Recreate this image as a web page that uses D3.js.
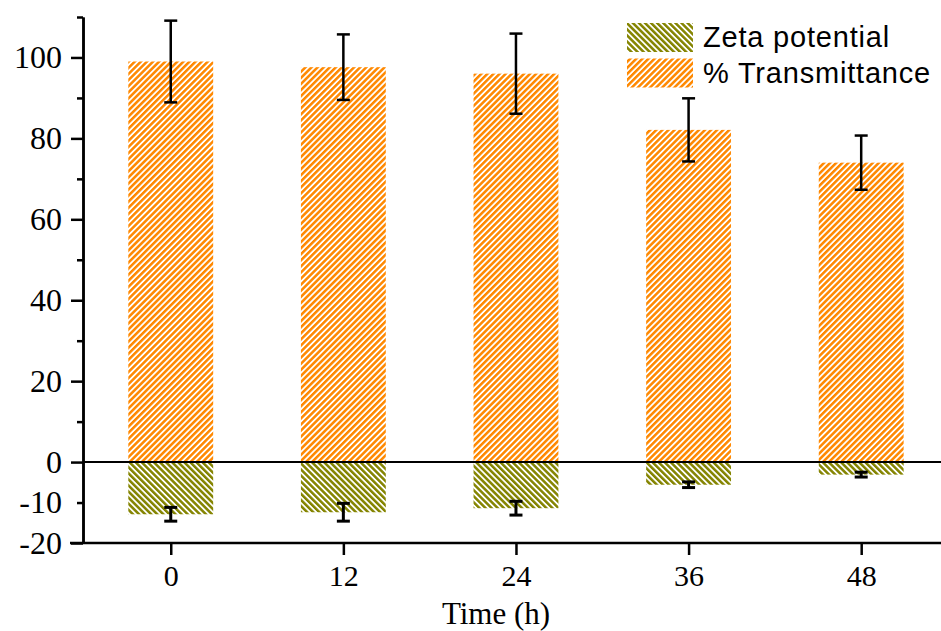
<!DOCTYPE html>
<html lang="en">
<head>
<meta charset="utf-8">
<title>Zeta potential and transmittance</title>
<script src="https://d3js.org/d3.v7.min.js"></script>
<style type="text/css">
body { margin: 0; background: #fff; }
svg  { display: block; }
.axis path, .axis line { stroke: #000; stroke-width: 2.5px; }
.axis text { font-family: "Liberation Serif", "Times New Roman", serif; font-size: 32px; fill: #000; }
.legend text { font-family: "Liberation Sans", Arial, sans-serif; font-size: 29px; fill: #000; }
</style>
</head>
<body>
<script type="text/javascript">

// data
var times = [0, 12, 24, 36, 48];
var transmittance = [99.0, 97.6, 96.0, 82.1, 74.0];
var transErr = [10.1, 8.1, 9.9, 7.8, 6.7];
var zeta = [-12.9, -12.4, -11.4, -5.6, -3.1];
var zetaErr = [1.7, 2.2, 1.7, 0.7, 0.6];
var yMajor = [100, 80, 60, 40, 20, 0, -20];
var yMinor = [110, 90, 70, 50, 30, 10, -10];
var yLabels = [100, 80, 60, 40, 20, 0, -10, -20];
var seriesNames = ["Zeta potential", "% Transmittance"];

var W = 941, H = 631;

var svg = d3.select("body")
            .append("svg")
            .attr("width", W)
            .attr("height", H);

var x = d3.scaleLinear().domain([-6.1, 54]).range([83, 947.5]);
var y = d3.scaleLinear().domain([-20, 110]).range([543, 17]);
var halfW = 2.95;

// hatch patterns
var defs = svg.append("defs");
function hatch(id, color, angle) {
    var p = defs.append("pattern")
        .attr("id", id)
        .attr("patternUnits", "userSpaceOnUse")
        .attr("width", 4.3)
        .attr("height", 4.3)
        .attr("patternTransform", "rotate(" + angle + ")");
    p.append("rect").attr("width", 4.3).attr("height", 4.3).attr("fill", "#fff");
    p.append("rect").attr("width", 2.5).attr("height", 4.3).attr("fill", color);
}
hatch("hatchOrange", "#ff8800", 45);
hatch("hatchOlive", "#848400", -45);

// bars
svg.selectAll(".tbar")
    .data(times)
    .enter()
    .append("rect")
    .attr("class", "tbar")
    .attr("x", function(d) { return x(d - halfW); })
    .attr("width", function(d) { return x(d + halfW) - x(d - halfW); })
    .attr("y", function(d, i) { return y(transmittance[i]); })
    .attr("height", function(d, i) { return y(0) - y(transmittance[i]); })
    .attr("fill", "url(#hatchOrange)");

svg.selectAll(".zbar")
    .data(times)
    .enter()
    .append("rect")
    .attr("class", "zbar")
    .attr("x", function(d) { return x(d - halfW); })
    .attr("width", function(d) { return x(d + halfW) - x(d - halfW); })
    .attr("y", y(0))
    .attr("height", function(d, i) { return y(zeta[i]) - y(0); })
    .attr("fill", "url(#hatchOlive)");

// error bars
function errorBars(vals, errs, sw) {
    var g = svg.append("g").attr("stroke", "#000").attr("stroke-width", sw);
    times.forEach(function(t, i) {
        var cx = x(t), hi = y(vals[i] + errs[i]), lo = y(vals[i] - errs[i]);
        g.append("line").attr("x1", cx).attr("x2", cx).attr("y1", hi).attr("y2", lo);
        g.append("line").attr("x1", cx - 6.5).attr("x2", cx + 6.5).attr("y1", hi).attr("y2", hi);
        g.append("line").attr("x1", cx - 6.5).attr("x2", cx + 6.5).attr("y1", lo).attr("y2", lo);
    });
}
errorBars(transmittance, transErr, 2.5);
errorBars(zeta, zetaErr, 3);

// zero line
svg.append("line")
    .attr("x1", x(-6.1)).attr("x2", W)
    .attr("y1", y(0)).attr("y2", y(0))
    .attr("stroke", "#000").attr("stroke-width", 2);

// y axis: minor ticks, then major ticks, labels drawn separately
svg.append("g")
    .attr("class", "axis")
    .attr("transform", "translate(" + x(-6.1) + ",0)")
    .call(d3.axisLeft(y).tickValues(yMinor).tickSize(6).tickSizeOuter(0).tickFormat(""));

svg.append("g")
    .attr("class", "axis")
    .attr("transform", "translate(" + x(-6.1) + ",0)")
    .call(d3.axisLeft(y).tickValues(yMajor).tickSize(12).tickSizeOuter(0).tickFormat(""));

svg.append("g")
    .attr("class", "axis")
    .selectAll("text")
    .data(yLabels)
    .enter()
    .append("text")
    .attr("x", 62)
    .attr("y", function(d) { return y(d); })
    .attr("dy", "0.34em")
    .attr("text-anchor", "end")
    .text(function(d) { return d < 0 ? "-" + Math.abs(d) : d; });

// x axis
var xAx = svg.append("g")
    .attr("class", "axis")
    .attr("transform", "translate(0," + y(-20) + ")")
    .call(d3.axisBottom(x).tickValues(times).tickSize(12).tickSizeOuter(0).tickPadding(10));
xAx.select(".domain").attr("d", "M" + (x(-6.1) - 13) + ",0H" + W);
xAx.selectAll("text").attr("dy", "0.71em").style("font-size", "30px");

svg.append("text")
    .attr("x", 496)
    .attr("y", 624)
    .attr("text-anchor", "middle")
    .style("font-family", "'Liberation Serif', 'Times New Roman', serif")
    .style("font-size", "31px")
    .text("Time (h)");

// legend
var legend = svg.append("g").attr("class", "legend");
var fills = ["url(#hatchOlive)", "url(#hatchOrange)"];
seriesNames.forEach(function(name, i) {
    var ly = 23 + i * 35.5;
    legend.append("rect")
        .attr("x", 627).attr("y", ly)
        .attr("width", 66).attr("height", 29)
        .attr("fill", fills[i]);
    legend.append("text")
        .attr("x", 703).attr("y", ly + 24)
        .style("letter-spacing", "0.8px")
        .text(name);
});

</script>
</body>
</html>
